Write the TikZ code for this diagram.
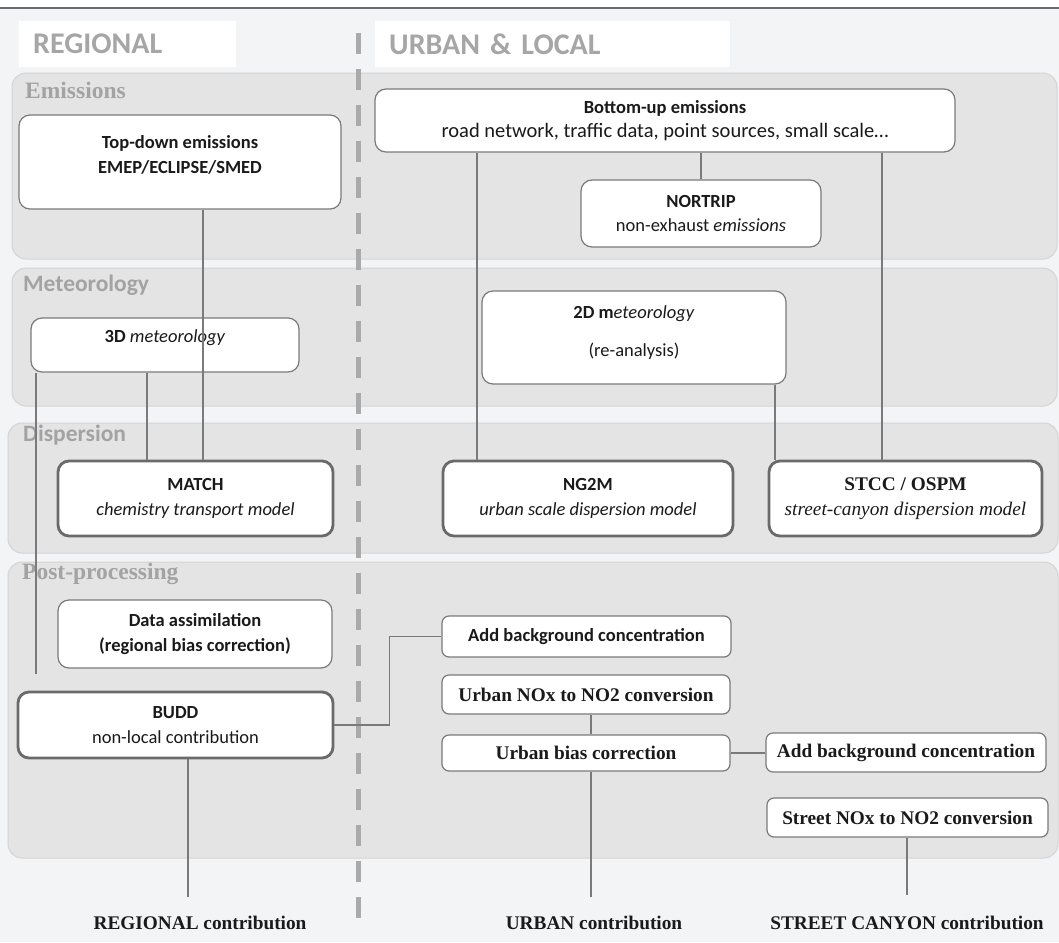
\documentclass[tikz,border=0pt]{standalone}
\usepackage{fontspec}
\setmainfont{Carlito}
\newfontfamily\tnr{Liberation Serif}

\definecolor{pagebg}{HTML}{F3F4F5}
\definecolor{bandfill}{HTML}{E4E4E4}
\definecolor{bandline}{HTML}{D4D4D4}
\definecolor{boxline}{HTML}{7A7A7A}
\definecolor{thickline}{HTML}{6A6A6A}
\definecolor{linkgray}{HTML}{7A7A7A}
\definecolor{headgray}{HTML}{A6A6A6}
\definecolor{titlegray}{HTML}{A3A3A3}
\definecolor{topline}{HTML}{6B6B6B}
\definecolor{dashgray}{HTML}{AAAAAA}
\definecolor{textdark}{HTML}{1A1A1A}

\newcommand\bxfont{\fontsize{18.5}{24.5}\selectfont}
\newcommand\serfont{\fontsize{19.3}{24.5}\selectfont\tnr}

\begin{document}
\begin{tikzpicture}[x=1pt, y=-1pt,
    box/.style={draw=boxline, line width=1.2pt, fill=white, rounded corners=11pt,
        align=center, inner sep=0pt, font=\bxfont, text=textdark},
    thickbox/.style={box, draw=thickline, line width=2.8pt},
    smallbox/.style={box, rounded corners=7pt},
    boxtext/.style={align=center, inner sep=0pt, font=\bxfont, text=textdark},
    band/.style={fill=bandfill, draw=bandline, line width=1pt, rounded corners=14pt},
    bandtitle/.style={anchor=west, inner sep=0pt, text=titlegray,
        font=\fontsize{23.5}{26}\selectfont\bfseries},
    serftitle/.style={bandtitle, font=\fontsize{23.5}{26}\selectfont\tnr\bfseries},
    headbox/.style={fill=white, anchor=west, inner xsep=14pt, inner ysep=0pt,
        minimum height=46pt, align=left, text=headgray,
        font=\fontsize{30}{34}\selectfont\bfseries},
    divider/.style={draw=dashgray, line width=5pt, dash pattern=on 21pt off 15pt},
    link/.style={draw=linkgray, line width=1.3pt},
    outlabel/.style={font=\serfont\bfseries, text=textdark, inner sep=0pt},
]
    \useasboundingbox (0,0) rectangle (1059,942);

    % Declare the background and the bands
    \fill[white] (0,0) rectangle (1059,8);
    \fill[pagebg] (0,8) rectangle (1059,942);
    \draw[topline, line width=1.5pt] (0,8) -- (1059,8);
    \draw[band] (12,73) rectangle (1057,259);
    \draw[band] (12,268) rectangle (1057,406);
    \draw[band] (8,423) rectangle (1058,553);
    \draw[band] (8,562) rectangle (1058,858);
    \draw[divider] (358,33) -- (358,932);

    % Declare the titles
    \node[headbox, text width=189pt] (reghead) at (19,44) {REGIONAL};
    \node[headbox, text width=327pt] (urbhead) at (375,44) {URBAN \& LOCAL};
    \node[serftitle] (emititle) at (25,90) {Emissions};
    \node[bandtitle] (mettitle) at (23,285) {Meteorology};
    \node[bandtitle] (distitle) at (23,435) {Dispersion};
    \node[serftitle] (posttitle) at (22,574) {Post-processing};

    % Declare the boxes
    \node[box, minimum width=322pt, minimum height=94pt,
        label={[boxtext, yshift=7pt]center:{\textbf{Top-down emissions}\\\textbf{EMEP/ECLIPSE/SMED}}}]
        (topdown) at (180,162) {};
    \node[box, minimum width=580pt, minimum height=63pt] (bottomup) at (665,120.5)
        {\textbf{Bottom-up emissions}\\{\fontsize{20.5}{24.5}\selectfont road network, traffic data, point sources, small scale…}};
    \node[box, minimum width=240pt, minimum height=67pt] (nortrip) at (701,213.5)
        {\textbf{NORTRIP}\\non-exhaust \textit{emissions}};
    \node[box, minimum width=268pt, minimum height=54pt,
        label={[boxtext, yshift=7pt]center:{\textbf{3D} \textit{meteorology}}}]
        (met3d) at (165,345) {};
    \node[box, minimum width=304pt, minimum height=93pt,
        label={[boxtext, yshift=5pt]center:{\textbf{2D m}\textit{eteorology}\\[14pt](re-analysis)}}]
        (met2d) at (634,337.5) {};
    \node[thickbox, minimum width=275pt, minimum height=75pt] (match) at (195.5,498.5)
        {\textbf{MATCH}\\\textit{chemistry transport model}};
    \node[thickbox, minimum width=290pt, minimum height=75pt] (ng2m) at (588,498.5)
        {\textbf{NG2M}\\\textit{urban scale dispersion model}};
    \node[thickbox, minimum width=273pt, minimum height=75pt, font=\serfont] (stcc) at (905.5,498.5)
        {\textbf{STCC / OSPM}\\\textit{street-canyon dispersion model}};
    \node[box, minimum width=274pt, minimum height=68pt] (assim) at (195,634)
        {\textbf{Data assimilation}\\\textbf{(regional bias correction)}};
    \node[thickbox, minimum width=315pt, minimum height=66pt] (budd) at (175.5,725)
        {\textbf{BUDD}\\non-local contribution};
    \node[smallbox, minimum width=289pt, minimum height=41pt] (addbgu) at (586.5,636.5)
        {\textbf{Add background concentration}};
    \node[smallbox, minimum width=288pt, minimum height=39pt, font=\serfont\bfseries] (urbno) at (586,694.5)
        {Urban NOx to NO2 conversion};
    \node[smallbox, minimum width=288pt, minimum height=36pt, font=\serfont\bfseries] (urbbias) at (586,753)
        {Urban bias correction};
    \node[smallbox, minimum width=280pt, minimum height=39pt, font=\serfont\bfseries] (addbgs) at (906,752.5)
        {Add background concentration};
    \node[smallbox, minimum width=281pt, minimum height=39pt, font=\serfont\bfseries] (streetno) at (907.5,817.5)
        {Street NOx to NO2 conversion};

    % Declare the contributions
    \node[outlabel] (reglabel) at (200,923) {REGIONAL contribution};
    \node[outlabel] (urblabel) at (594,923) {URBAN contribution};
    \node[outlabel] (strlabel) at (907,923) {STREET CANYON contribution};

    % Declare the columns of the links
    \coordinate (xtd) at (203,0);
    \coordinate (xmet) at (147,0);
    \coordinate (xng) at (477,0);
    \coordinate (xst) at (882,0);
    \coordinate (xtwo) at (775,0);
    \coordinate (xub) at (591,0);
    \coordinate (metend) at (36,674);
    \coordinate (regend) at (188,897);
    \coordinate (urbend) at (591,897);
    \coordinate (strend) at (907,895);

    % Declare the links
    \draw[link] (topdown.south -| xtd) -- (match.north -| xtd);
    \draw[link] (met3d.south -| xmet) -- (match.north -| xmet);
    \draw[link] (met3d.south -| metend) -- (metend);
    \draw[link] (bottomup.south -| xng) -- (ng2m.north -| xng);
    \draw[link] (bottomup.south -| nortrip.north) -- (nortrip.north);
    \draw[link] (bottomup.south -| xst) -- (stcc.north -| xst);
    \draw[link] (met2d.south -| xtwo) -- (stcc.north -| xtwo);
    \draw[link] (budd.east) -- ++(55,0) |- (addbgu.west);
    \draw[link] (urbno.south -| xub) -- (urbbias.north -| xub);
    \draw[link] (urbbias.east) -- (urbbias.east -| addbgs.west);
    \draw[link] (budd.south -| regend) -- (regend);
    \draw[link] (urbbias.south -| urbend) -- (urbend);
    \draw[link] (streetno.south -| strend) -- (strend);

\end{tikzpicture}
\end{document}
